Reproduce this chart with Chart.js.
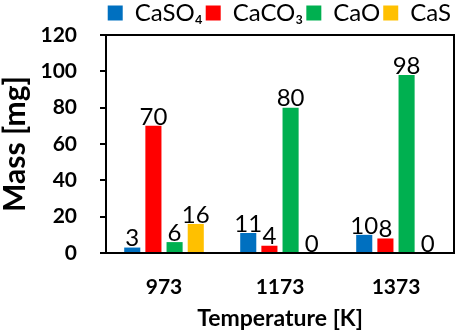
<!DOCTYPE html>
<html>
<head>
<meta charset="utf-8">
<script src="https://cdn.jsdelivr.net/npm/chart.js@4"></script>
<style>
  body { margin: 0; background: #fff; }
  #wrap { width: 462px; height: 336px; }
</style>
</head>
<body>
<div id="wrap"><canvas id="myChart" width="462" height="336"></canvas></div>
<script>
var temps = ["973", "1173", "1373"];
var caso4 = [3, 11, 10];
var caco3 = [70, 4, 8];
var cao = [6, 80, 98];
var cas = [16, 0, 0];
var yTicks = [0, 20, 40, 60, 80, 100, 120];

var font = "Lato, 'Open Sans', sans-serif";

// value labels above each bar
var barLabels = {
    id: "barLabels",
    afterDatasetsDraw: function(chart) {
        var ctx = chart.ctx;
        ctx.save();
        ctx.font = "24px " + font;
        ctx.fillStyle = "#000";
        ctx.textAlign = "center";
        ctx.textBaseline = "bottom";
        chart.data.datasets.forEach(function(ds, i) {
            chart.getDatasetMeta(i).data.forEach(function(bar, j) {
                ctx.fillText(ds.data[j], bar.x, bar.y + 3);
            });
        });
        ctx.restore();
    }
};

// top and right edge of the plot box
var boxEdges = {
    id: "boxEdges",
    afterDraw: function(chart) {
        var ctx = chart.ctx;
        var xs = chart.scales.x;
        var ys = chart.scales.y;
        ctx.save();
        ctx.fillStyle = "#000";
        ctx.fillRect(xs.left - 1, ys.top - 1, xs.right - xs.left + 2, 2);
        ctx.fillRect(xs.right - 1, ys.top - 1, 2, ys.bottom - ys.top + 2);
        ctx.restore();
    }
};

var chartdata = {
    labels: temps,
    datasets: [
        { label: "CaSO\u2084", data: caso4, backgroundColor: "#0070C0" },
        { label: "CaCO\u2083", data: caco3, backgroundColor: "#FF0000" },
        { label: "CaO", data: cao, backgroundColor: "#00B050" },
        { label: "CaS", data: cas, backgroundColor: "#FFC000" }
    ]
};

new Chart(document.getElementById("myChart"), {
    type: "bar",
    data: chartdata,
    plugins: [barLabels, boxEdges],
    options: {
        responsive: false,
        animation: false,
        categoryPercentage: 0.73,
        barPercentage: 0.76,
        layout: { padding: { left: 0, right: 8, top: -2, bottom: 6 } },
        plugins: {
            legend: {
                align: "end",
                labels: {
                    boxWidth: 15,
                    boxHeight: 15,
                    padding: 3,
                    color: "#000",
                    font: { family: font, size: 24, lineHeight: 1 }
                }
            },
            tooltip: { enabled: false }
        },
        scales: {
            x: {
                grid: { display: false },
                border: { display: true, color: "#000", width: 2 },
                ticks: { color: "#000", padding: 16, font: { family: font, size: 21, weight: "bold", lineHeight: 1 } },
                title: { display: true, text: "Temperature [K]", color: "#000", padding: { top: -7, bottom: 0 },
                         font: { family: font, size: 23, weight: "bold", lineHeight: 1 } }
            },
            y: {
                min: 0,
                max: 120,
                afterBuildTicks: function(axis) {
                    axis.ticks = yTicks.map(function(v) { return { value: v }; });
                },
                afterFit: function(axis) {
                    axis.width = 106;
                },
                grid: { drawOnChartArea: false, color: "#000", lineWidth: 2, tickLength: 6 },
                border: { display: true, color: "#000", width: 2 },
                ticks: { color: "#000", padding: 23, font: { family: font, size: 21, weight: "bold", lineHeight: 1 } },
                title: { display: true, text: "Mass [mg]", color: "#000", padding: 0,
                         font: { family: font, size: 30, weight: "bold", lineHeight: 1 } }
            }
        }
    }
});
</script>
</body>
</html>
